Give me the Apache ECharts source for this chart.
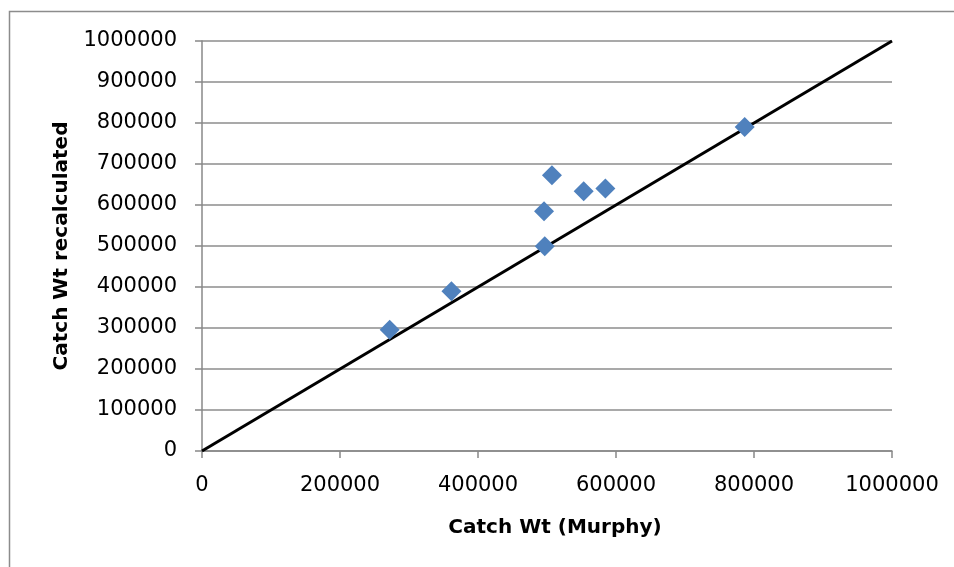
<!DOCTYPE html>
<html>
<head>
<meta charset="utf-8">
<script src="https://cdn.jsdelivr.net/npm/echarts@6/dist/echarts.min.js"></script>
<style>
  html, body { margin: 0; padding: 0; background: #fff; }
  #chart { width: 954px; height: 567px; }
</style>
</head>
<body>
<div id="chart"></div>
<script>
// Catch weight: Murphy estimate vs recalculated
const murphy       = [272000, 361500, 496700, 495700, 507200, 553200, 584600, 786500];
const recalculated = [296000, 389500, 499300, 584600, 672400, 633400, 640000, 790200];
// 1:1 reference line endpoints
const refLine = [0, 1000000];

const xTitle = 'Catch Wt (Murphy)';
const yTitle = 'Catch Wt recalculated';

const points = murphy.map((x, i) => [x, recalculated[i]]);
const linePts = refLine.map(v => [v, v]);

const chart = echarts.init(document.getElementById('chart'));
const font = 'DejaVu Sans, sans-serif';
const plain = v => String(v);

chart.setOption({
  animation: false,
  backgroundColor: '#fff',
  graphic: [{
    type: 'rect',
    shape: { x: 9.5, y: 11.5, width: 1000, height: 1000 },
    style: { fill: 'none', stroke: '#8c8c8c', lineWidth: 1.5 },
    silent: true
  }],
  grid: { left: 202, right: 62, top: 41, bottom: 116 },
  xAxis: {
    type: 'value', min: 0, max: 1000000, interval: 200000,
    name: xTitle, nameLocation: 'middle', nameGap: 67,
    nameTextStyle: { fontFamily: font, fontWeight: 'bold', fontSize: 20, color: '#000', padding: [0, 0, 0, 16] },
    axisLine: { show: true, lineStyle: { color: '#888', width: 1.5 } },
    axisTick: { show: true, length: 7, lineStyle: { color: '#888', width: 1.5 } },
    axisLabel: { fontFamily: font, fontSize: 21, color: '#000', margin: 24, formatter: plain },
    splitLine: { show: false }
  },
  yAxis: {
    type: 'value', min: 0, max: 1000000, interval: 100000,
    name: yTitle, nameLocation: 'middle', nameGap: 130,
    nameTextStyle: { fontFamily: font, fontWeight: 'bold', fontSize: 20, color: '#000' },
    axisLine: { show: true, lineStyle: { color: '#888', width: 1.5 } },
    axisTick: { show: true, length: 7, lineStyle: { color: '#888', width: 1.5 } },
    axisLabel: { fontFamily: font, fontSize: 21, color: '#000', margin: 25, formatter: plain },
    splitLine: { show: true, lineStyle: { color: '#8c8c8c', width: 1.5 } }
  },
  series: [
    {
      type: 'line', data: linePts, symbol: 'none', silent: true,
      lineStyle: { color: '#000', width: 3 }, z: 2
    },
    {
      type: 'scatter', data: points, symbol: 'diamond', symbolSize: 20,
      itemStyle: { color: '#4F81BD', opacity: 1 }, z: 3
    }
  ]
});
</script>
</body>
</html>
